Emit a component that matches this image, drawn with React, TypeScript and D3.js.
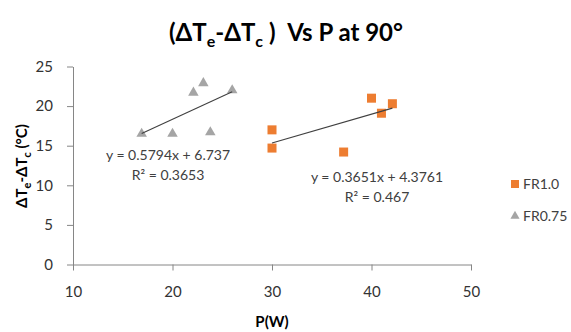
import React, { useEffect, useRef } from "react";
import * as d3 from "d3";

// FR1.0 series (squares)
const fr10P = [30, 30, 37.2, 40, 41, 42.1];
const fr10dT = [17, 14.7, 14.2, 21, 19.1, 20.3];
// FR0.75 series (triangles)
const fr075P = [16.9, 20, 22.1, 23.1, 23.8, 26];
const fr075dT = [16.5, 16.5, 21.7, 22.9, 16.7, 22];

const xTicks = [10, 20, 30, 40, 50];
const yTicks = [0, 5, 10, 15, 20, 25];

// trendline fits shown in the chart
const fr10Fit = { slope: 0.3651, intercept: 4.3761, eq: "y = 0.3651x + 4.3761", r2: "R² = 0.467" };
const fr075Fit = { slope: 0.5794, intercept: 6.737, eq: "y = 0.5794x + 6.737", r2: "R² = 0.3653" };

const ORANGE = "#ED7D31";
const GRAY = "#A5A5A5";
const FONT = "Lato, 'Open Sans', sans-serif";

const App = () => {
  const svgRef = useRef<SVGSVGElement>(null);

  useEffect(() => {
    const svg = d3.select(svgRef.current);
    svg.selectAll("*").remove();

    const x = d3.scaleLinear().domain([10, 50]).range([73, 471]);
    const y = d3.scaleLinear().domain([0, 25]).range([264.5, 66.5]);

    // title
    const title = svg
      .append("text")
      .attr("x", 286)
      .attr("y", 41)
      .attr("text-anchor", "middle")
      .style("font-family", FONT)
      .style("font-size", "24px")
      .style("font-weight", "bold")
      .style("white-space", "pre")
      .attr("fill", "#000");
    title.append("tspan").text("(ΔT");
    title.append("tspan").attr("dy", 6).style("font-size", "16px").text("e");
    title.append("tspan").attr("dy", -6).text("-ΔT");
    title.append("tspan").attr("dy", 6).style("font-size", "16px").text("c");
    title.append("tspan").attr("dy", -6).text(" )  Vs P at 90°");

    // x axis
    const xAxis = svg
      .append("g")
      .attr("transform", `translate(0,${y(0)})`)
      .call(d3.axisBottom(x).tickValues(xTicks).tickSize(6).tickSizeOuter(0).tickPadding(16));
    xAxis.select(".domain").attr("stroke", "#868686");
    xAxis.selectAll(".tick line").attr("stroke", "#868686");
    xAxis
      .selectAll("text")
      .style("font-family", FONT)
      .style("font-size", "15px")
      .attr("fill", "#333");

    // y axis
    const yAxis = svg
      .append("g")
      .attr("transform", `translate(${x(10)},0)`)
      .call(d3.axisLeft(y).tickValues(yTicks).tickSize(6).tickSizeOuter(0).tickPadding(14));
    yAxis.select(".domain").attr("stroke", "#868686");
    yAxis.selectAll(".tick line").attr("stroke", "#868686");
    yAxis
      .selectAll("text")
      .style("font-family", FONT)
      .style("font-size", "15px")
      .attr("fill", "#333");

    // axis titles
    svg
      .append("text")
      .attr("x", 272)
      .attr("y", 327)
      .attr("text-anchor", "middle")
      .style("font-family", FONT)
      .style("font-size", "15px")
      .style("font-weight", "bold")
      .text("P(W)");

    const yTitle = svg
      .append("text")
      .attr("transform", "translate(27,166) rotate(-90)")
      .attr("text-anchor", "middle")
      .style("font-family", FONT)
      .style("font-size", "15px")
      .style("font-weight", "bold")
      .style("white-space", "pre");
    yTitle.append("tspan").text("ΔT");
    yTitle.append("tspan").attr("dy", 4).style("font-size", "11px").text("e");
    yTitle.append("tspan").attr("dy", -4).text("-ΔT");
    yTitle.append("tspan").attr("dy", 4).style("font-size", "11px").text("c");
    yTitle.append("tspan").attr("dy", -4).text(" (°C)");

    // trendlines
    const drawFit = (xs: number[], fit: { slope: number; intercept: number }) => {
      const x0 = d3.min(xs)!;
      const x1 = d3.max(xs)!;
      svg
        .append("line")
        .attr("x1", x(x0))
        .attr("y1", y(fit.slope * x0 + fit.intercept))
        .attr("x2", x(x1))
        .attr("y2", y(fit.slope * x1 + fit.intercept))
        .attr("stroke", "#404040")
        .attr("stroke-width", 1.1);
    };

    // triangles
    const tri = d3.symbol().type(d3.symbolTriangle).size(48);
    svg
      .append("g")
      .selectAll("path")
      .data(fr075P.map((p, i) => [p, fr075dT[i]]))
      .enter()
      .append("path")
      .attr("d", tri)
      .attr("transform", (d) => `translate(${x(d[0])},${y(d[1])})`)
      .attr("fill", GRAY);

    // squares
    svg
      .append("g")
      .selectAll("rect")
      .data(fr10P.map((p, i) => [p, fr10dT[i]]))
      .enter()
      .append("rect")
      .attr("x", (d) => x(d[0]) - 4.5)
      .attr("y", (d) => y(d[1]) - 4.5)
      .attr("width", 9)
      .attr("height", 9)
      .attr("fill", ORANGE);

    drawFit(fr075P, fr075Fit);
    drawFit(fr10P, fr10Fit);

    // fit labels
    const label = (cx: number, by: number, t: string) =>
      svg
        .append("text")
        .attr("x", cx)
        .attr("y", by)
        .attr("text-anchor", "middle")
        .style("font-family", FONT)
        .style("font-size", "14px")
        .attr("fill", "#404040")
        .text(t);
    label(168, 160, fr075Fit.eq);
    label(168, 180, fr075Fit.r2);
    label(377, 182, fr10Fit.eq);
    label(377, 202, fr10Fit.r2);

    // legend
    svg
      .append("rect")
      .attr("x", 511)
      .attr("y", 180)
      .attr("width", 8)
      .attr("height", 8)
      .attr("fill", ORANGE);
    svg
      .append("path")
      .attr("d", d3.symbol().type(d3.symbolTriangle).size(36))
      .attr("transform", "translate(515,216)")
      .attr("fill", GRAY);
    svg
      .append("text")
      .attr("x", 523)
      .attr("y", 189)
      .style("font-family", FONT)
      .style("font-size", "14px")
      .attr("fill", "#404040")
      .text("FR1.0");
    svg
      .append("text")
      .attr("x", 523)
      .attr("y", 221)
      .style("font-family", FONT)
      .style("font-size", "14px")
      .attr("fill", "#404040")
      .text("FR0.75");
  }, []);

  return (
    <svg
      ref={svgRef}
      width={571}
      height={332}
      style={{ position: "absolute", left: 0, top: 0, background: "#fff" }}
    ></svg>
  );
};

export default App;
